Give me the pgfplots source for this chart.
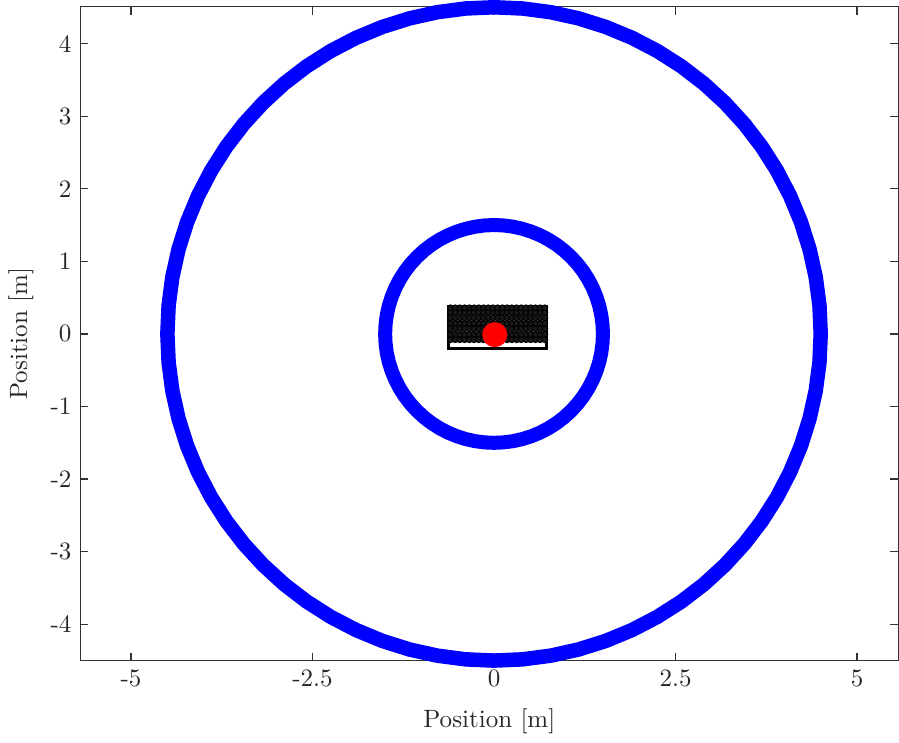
\documentclass[border=0pt]{standalone}
\usepackage{pgfplots}
\pgfplotsset{compat=1.18}
\begin{document}
\begin{tikzpicture}
\begin{axis}[
  x=29pt, y=29pt,
  xmin=-5.70, xmax=5.57, ymin=-4.50, ymax=4.51,
  clip=false,
  axis line style={black!80, line width=0.5pt},
  tick style={black!80, line width=0.5pt},
  tick align=inside,
  major tick length=3.2pt,
  xtick={-5,-2.5,0,2.5,5},
  xticklabels={-5,-2.5,0,2.5,5},
  ytick={-4,-3,-2,-1,0,1,2,3,4},
  yticklabels={-4,-3,-2,-1,0,1,2,3,4},
  ticklabel style={black!85},
  xlabel={Position [m]},
  ylabel={Position [m]},
  xlabel style={yshift=-2pt},
  label style={black!85},
]
% outer ring
\addplot[blue, line width=5.8pt, data cs=polar, no markers] coordinates {
(0,4.5) (5,4.5) (10,4.5) (15,4.5) (20,4.5) (25,4.5) (30,4.5) (35,4.5) (40,4.5) (45,4.5)
(50,4.5) (55,4.5) (60,4.5) (65,4.5) (70,4.5) (75,4.5) (80,4.5) (85,4.5) (90,4.5) (95,4.5)
(100,4.5) (105,4.5) (110,4.5) (115,4.5) (120,4.5) (125,4.5) (130,4.5) (135,4.5) (140,4.5) (145,4.5)
(150,4.5) (155,4.5) (160,4.5) (165,4.5) (170,4.5) (175,4.5) (180,4.5) (185,4.5) (190,4.5) (195,4.5)
(200,4.5) (205,4.5) (210,4.5) (215,4.5) (220,4.5) (225,4.5) (230,4.5) (235,4.5) (240,4.5) (245,4.5)
(250,4.5) (255,4.5) (260,4.5) (265,4.5) (270,4.5) (275,4.5) (280,4.5) (285,4.5) (290,4.5) (295,4.5)
(300,4.5) (305,4.5) (310,4.5) (315,4.5) (320,4.5) (325,4.5) (330,4.5) (335,4.5) (340,4.5) (345,4.5)
(350,4.5) (355,4.5) (360,4.5) (365,4.5)
};
% inner ring
\addplot[blue, line width=5.6pt, data cs=polar, no markers] coordinates {
(0,1.5) (5,1.5) (10,1.5) (15,1.5) (20,1.5) (25,1.5) (30,1.5) (35,1.5) (40,1.5) (45,1.5)
(50,1.5) (55,1.5) (60,1.5) (65,1.5) (70,1.5) (75,1.5) (80,1.5) (85,1.5) (90,1.5) (95,1.5)
(100,1.5) (105,1.5) (110,1.5) (115,1.5) (120,1.5) (125,1.5) (130,1.5) (135,1.5) (140,1.5) (145,1.5)
(150,1.5) (155,1.5) (160,1.5) (165,1.5) (170,1.5) (175,1.5) (180,1.5) (185,1.5) (190,1.5) (195,1.5)
(200,1.5) (205,1.5) (210,1.5) (215,1.5) (220,1.5) (225,1.5) (230,1.5) (235,1.5) (240,1.5) (245,1.5)
(250,1.5) (255,1.5) (260,1.5) (265,1.5) (270,1.5) (275,1.5) (280,1.5) (285,1.5) (290,1.5) (295,1.5)
(300,1.5) (305,1.5) (310,1.5) (315,1.5) (320,1.5) (325,1.5) (330,1.5) (335,1.5) (340,1.5) (345,1.5)
(350,1.5) (355,1.5) (360,1.5) (365,1.5)
};
% container
\addplot[black, line width=1.2pt, no markers] coordinates {
(-0.63,0.40) (-0.63,-0.20) (0.725,-0.20) (0.725,0.40)
};
% particles
\addplot[only marks, mark=*, mark size=1.15pt, black, mark options={fill=black!90, draw=black}] coordinates {
(-0.600,-0.080) (-0.535,-0.080) (-0.470,-0.080) (-0.405,-0.080) (-0.340,-0.080) (-0.275,-0.080) (-0.210,-0.080) (-0.145,-0.080) (-0.080,-0.080) (-0.015,-0.080) (0.050,-0.080) (0.115,-0.080) (0.180,-0.080) (0.245,-0.080) (0.310,-0.080) (0.375,-0.080) (0.440,-0.080) (0.505,-0.080) (0.570,-0.080) (0.635,-0.080) (0.700,-0.080)
(-0.600,-0.005) (-0.535,-0.005) (-0.470,-0.005) (-0.405,-0.005) (-0.340,-0.005) (-0.275,-0.005) (-0.210,-0.005) (-0.145,-0.005) (-0.080,-0.005) (-0.015,-0.005) (0.050,-0.005) (0.115,-0.005) (0.180,-0.005) (0.245,-0.005) (0.310,-0.005) (0.375,-0.005) (0.440,-0.005) (0.505,-0.005) (0.570,-0.005) (0.635,-0.005) (0.700,-0.005)
(-0.600,0.070) (-0.535,0.070) (-0.470,0.070) (-0.405,0.070) (-0.340,0.070) (-0.275,0.070) (-0.210,0.070) (-0.145,0.070) (-0.080,0.070) (-0.015,0.070) (0.050,0.070) (0.115,0.070) (0.180,0.070) (0.245,0.070) (0.310,0.070) (0.375,0.070) (0.440,0.070) (0.505,0.070) (0.570,0.070) (0.635,0.070) (0.700,0.070)
(-0.600,0.145) (-0.535,0.145) (-0.470,0.145) (-0.405,0.145) (-0.340,0.145) (-0.275,0.145) (-0.210,0.145) (-0.145,0.145) (-0.080,0.145) (-0.015,0.145) (0.050,0.145) (0.115,0.145) (0.180,0.145) (0.245,0.145) (0.310,0.145) (0.375,0.145) (0.440,0.145) (0.505,0.145) (0.570,0.145) (0.635,0.145) (0.700,0.145)
(-0.600,0.220) (-0.535,0.220) (-0.470,0.220) (-0.405,0.220) (-0.340,0.220) (-0.275,0.220) (-0.210,0.220) (-0.145,0.220) (-0.080,0.220) (-0.015,0.220) (0.050,0.220) (0.115,0.220) (0.180,0.220) (0.245,0.220) (0.310,0.220) (0.375,0.220) (0.440,0.220) (0.505,0.220) (0.570,0.220) (0.635,0.220) (0.700,0.220)
(-0.600,0.295) (-0.535,0.295) (-0.470,0.295) (-0.405,0.295) (-0.340,0.295) (-0.275,0.295) (-0.210,0.295) (-0.145,0.295) (-0.080,0.295) (-0.015,0.295) (0.050,0.295) (0.115,0.295) (0.180,0.295) (0.245,0.295) (0.310,0.295) (0.375,0.295) (0.440,0.295) (0.505,0.295) (0.570,0.295) (0.635,0.295) (0.700,0.295)
(-0.600,0.360) (-0.535,0.360) (-0.470,0.360) (-0.405,0.360) (-0.340,0.360) (-0.275,0.360) (-0.210,0.360) (-0.145,0.360) (-0.080,0.360) (-0.015,0.360) (0.050,0.360) (0.115,0.360) (0.180,0.360) (0.245,0.360) (0.310,0.360) (0.375,0.360) (0.440,0.360) (0.505,0.360) (0.570,0.360) (0.635,0.360) (0.700,0.360)
};
% red body
\addplot[only marks, mark=*, mark size=4.8pt, red, mark options={fill=red, draw=red}] coordinates {(0.01,-0.01)};
\end{axis}
\end{tikzpicture}
\end{document}
